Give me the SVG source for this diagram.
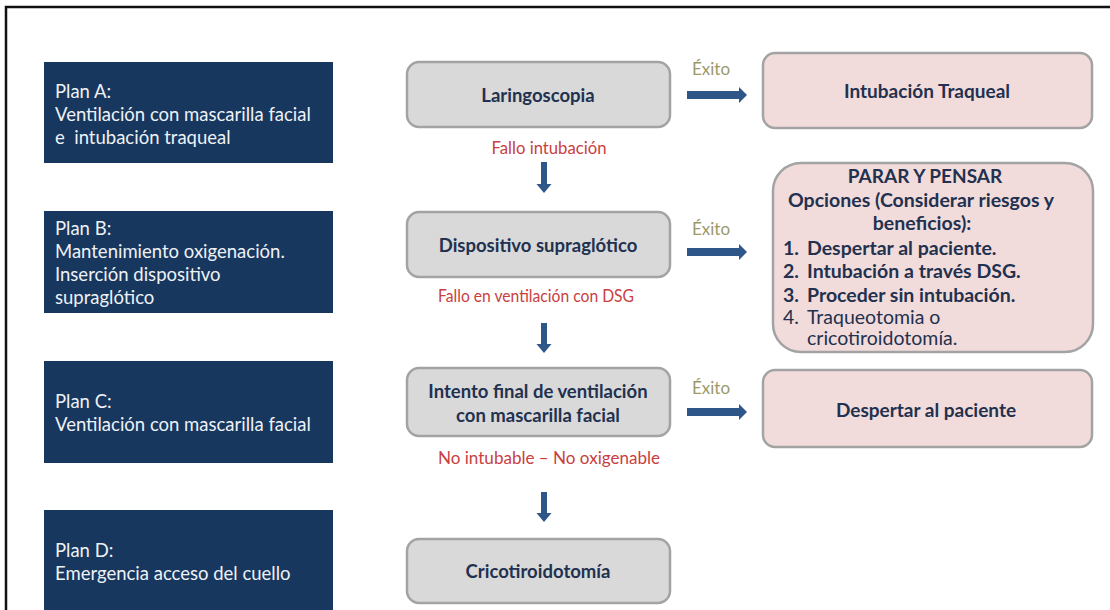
<svg xmlns="http://www.w3.org/2000/svg" width="1110" height="610" viewBox="0 0 1110 610">
<defs>
<style>
text{font-family:Lato,"Open Sans","Liberation Sans",sans-serif}
.plan rect{fill:#17375e}
.plan text{fill:#eef1f6;font-size:18.5px}
.step rect{fill:#d9d9d9;stroke:#a3a3a3;stroke-width:2.5}
.res rect{fill:#f2dcdb;stroke:#a3a3a3;stroke-width:2.5}
.bt{fill:#22314f;font-size:18.5px;font-weight:bold;text-anchor:middle}
.bt2{fill:#22314f;font-size:19px;font-weight:bold;text-anchor:middle}
.fail{fill:#c9403f;font-size:16.5px;text-anchor:middle}
.ok{fill:#9a9a6a;font-size:17px}
.arr{fill:#2f5689}
.opt{fill:#22314f;font-size:19.5px;font-weight:bold}
.opt2{fill:#22314f;font-size:19.5px}
</style>
</defs>
<rect width="1110" height="610" fill="#ffffff"/>
<path d="M6,610 V7 H1110" fill="none" stroke="#111" stroke-width="2.5"/>

<g id="planA" class="plan">
<rect x="44" y="62" width="289" height="101"/>
<text x="55" y="98">Plan A:</text>
<text x="55" y="121">Ventilación con mascarilla facial</text>
<text x="55" y="144" xml:space="preserve">e  intubación traqueal</text>
</g>
<g id="planB" class="plan">
<rect x="44" y="211" width="289" height="102"/>
<text x="55" y="235">Plan B:</text>
<text x="55" y="258">Mantenimiento  oxigenación.</text>
<text x="55" y="281">Inserción dispositivo</text>
<text x="55" y="304">supraglótico</text>
</g>
<g id="planC" class="plan">
<rect x="44" y="361" width="289" height="102"/>
<text x="55" y="408">Plan C:</text>
<text x="55" y="431">Ventilación con mascarilla facial</text>
</g>
<g id="planD" class="plan">
<rect x="44" y="510" width="289" height="102"/>
<text x="55" y="557">Plan D:</text>
<text x="55" y="580">Emergencia acceso del cuello</text>
</g>

<g id="laringoscopia" class="step">
<rect x="407" y="62" width="263" height="65" rx="12"/>
<text class="bt" x="538" y="102">Laringoscopia</text>
</g>
<g id="dispositivo" class="step">
<rect x="407" y="212" width="263" height="65" rx="12"/>
<text class="bt" x="538" y="252">Dispositivo supraglótico</text>
</g>
<g id="intento" class="step">
<rect x="407" y="368" width="263" height="68" rx="12"/>
<text class="bt" x="538" y="398">Intento final de ventilación</text>
<text class="bt" x="538" y="422">con mascarilla facial</text>
</g>
<g id="crico" class="step">
<rect x="407" y="539" width="263" height="64" rx="12"/>
<text class="bt" x="538" y="578">Cricotiroidotomía</text>
</g>

<g id="intubacion" class="res">
<rect x="763" y="53" width="329" height="75" rx="12"/>
<text class="bt2" x="927" y="98">Intubación Traqueal</text>
</g>
<g id="parar" class="res">
<rect x="773" y="163" width="320" height="189" rx="28"/>
<text class="bt2" x="925" y="183">PARAR Y PENSAR</text>
<text class="opt" x="921" y="207" text-anchor="middle">Opciones (Considerar riesgos y</text>
<text class="opt" x="922" y="230" text-anchor="middle">beneficios):</text>
<text class="opt" x="783" y="255">1.</text><text class="opt" x="807" y="255">Despertar al paciente.</text>
<text class="opt" x="783" y="278">2.</text><text class="opt" x="807" y="278">Intubación a través DSG.</text>
<text class="opt" x="783" y="302">3.</text><text class="opt" x="807" y="302">Proceder sin intubación.</text>
<text class="opt2" x="783" y="324">4.</text><text class="opt2" x="807" y="324">Traqueotomia o</text>
<text class="opt2" x="807" y="345">cricotiroidotomía.</text>
</g>
<g id="despertar" class="res">
<rect x="763" y="370" width="329" height="77" rx="12"/>
<text class="bt2" x="926" y="417">Despertar al paciente</text>
</g>

<g id="connectors">
<g class="arr">
<path d="M541,162 H547 V184 H551.5 L544,193 L536.5,184 H541 Z"/>
<path d="M541,323 H547 V344 H551.5 L544,353 L536.5,344 H541 Z"/>
<path d="M541,492 H547 V513 H551.5 L544,522 L536.5,513 H541 Z"/>
<path d="M687,91 H739 V87 L747,95 L739,103 V99 H687 Z"/>
<path d="M687,248 H739 V244 L747,252 L739,260 V256 H687 Z"/>
<path d="M687,408 H739 V404 L747,412 L739,420 V416 H687 Z"/>
</g>
<text class="fail" x="549" y="154" textLength="115" lengthAdjust="spacingAndGlyphs">Fallo intubación</text>
<text class="fail" x="536" y="302" textLength="196" lengthAdjust="spacingAndGlyphs">Fallo en ventilación con DSG</text>
<text class="fail" x="549" y="464" textLength="222" lengthAdjust="spacingAndGlyphs">No intubable – No oxigenable</text>
<text class="ok" x="692" y="75">Éxito</text>
<text class="ok" x="692" y="235">Éxito</text>
<text class="ok" x="692" y="394">Éxito</text>
</g>
</svg>
